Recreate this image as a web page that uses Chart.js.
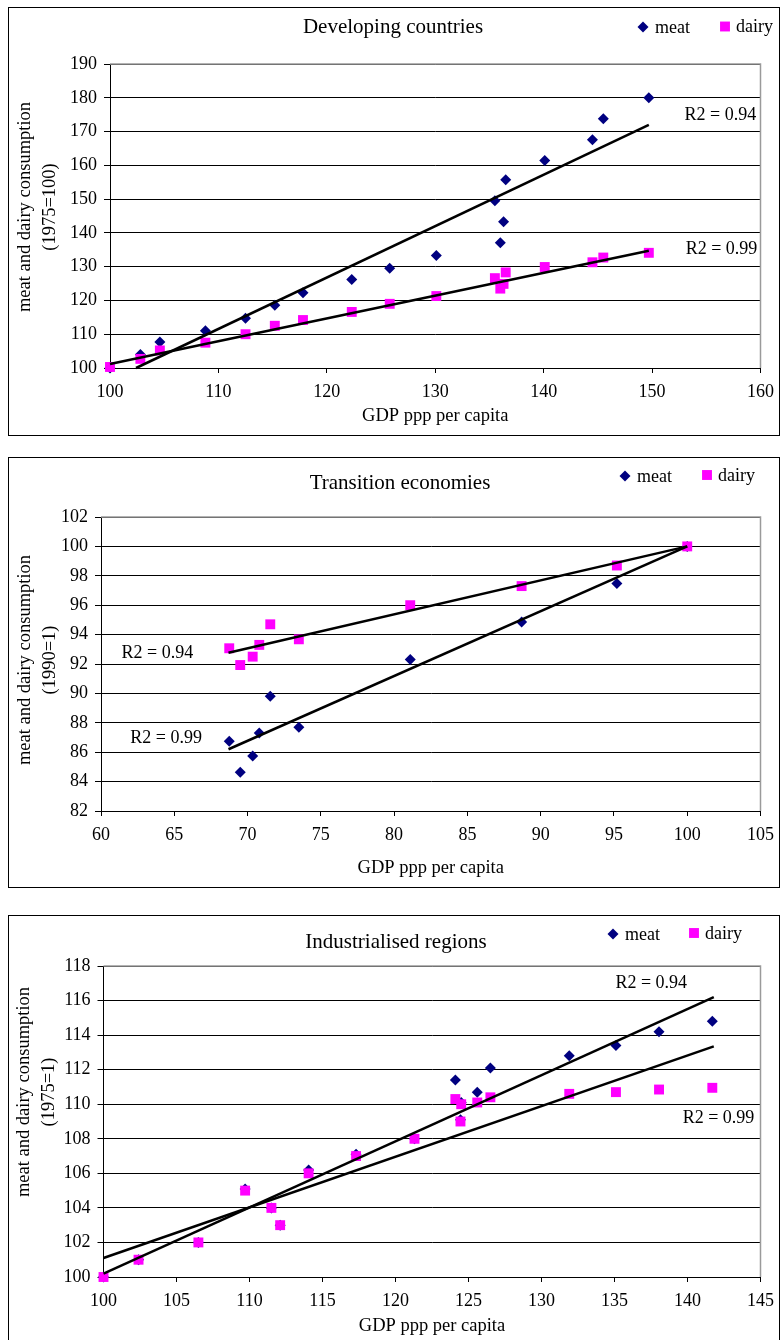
<!DOCTYPE html>
<html>
<head>
<meta charset="utf-8">
<script src="https://cdn.jsdelivr.net/npm/chart.js@4.4.1/dist/chart.umd.min.js"></script>
<style>
html, body { margin: 0; padding: 0; background: #fff; overflow: hidden; }
body { width: 782px; height: 1340px; position: relative; }
.panel { position: absolute; left: 8px; width: 772px; box-sizing: border-box; border: 1px solid #000; background: #fff; }
canvas { position: absolute; left: 0; }
</style>
</head>
<body>
<div class="panel" style="top:7px;height:429px"></div>
<canvas id="devChart" width="782" height="429" style="top:7px"></canvas>
<div class="panel" style="top:457px;height:431px"></div>
<canvas id="transChart" width="782" height="431" style="top:457px"></canvas>
<div class="panel" style="top:915px;height:440px"></div>
<canvas id="indChart" width="782" height="425" style="top:915px"></canvas>
<script>
// Developing countries (1975=100)
var devGdp   = [100, 102.8, 104.6, 108.8, 112.5, 115.2, 117.8, 122.3, 125.8, 130.1, 135.5, 136.0, 136.3, 136.5, 140.1, 144.5, 145.5, 149.7];
var devMeat  = [100, 104.0, 107.7, 111.0, 114.7, 118.6, 122.3, 126.2, 129.5, 133.3, 149.5, 137.1, 143.3, 155.7, 161.4, 167.6, 173.8, 180.0];
var devDairy = [100.3, 102.7, 105.2, 107.5, 110.0, 112.5, 114.2, 116.6, 119.0, 121.3, 126.6, 123.5, 124.9, 128.3, 129.9, 131.3, 132.7, 134.1];
var devMeatTrend  = [{x: 102.4, y: 100}, {x: 149.7, y: 172.0}];
var devDairyTrend = [{x: 100, y: 101.2}, {x: 149.7, y: 134.7}];

// Transition economies (1990=1)
var transGdp   = [68.75, 69.5, 70.35, 70.8, 71.55, 73.5, 81.1, 88.7, 95.2, 100];
var transMeat  = [86.75, 84.64, 85.75, 87.3, 89.8, 87.7, 92.3, 94.86, 97.48, 100];
var transDairy = [93.07, 91.93, 92.5, 93.3, 94.7, 93.68, 96.0, 97.3, 98.7, 100];
var transMeatTrend  = [{x: 68.7, y: 86.2}, {x: 100, y: 100}];
var transDairyTrend = [{x: 68.7, y: 92.77}, {x: 100, y: 100}];

// Industrialised regions (1975=1)
var indGdp   = [100, 102.4, 106.5, 109.7, 111.5, 112.1, 114.05, 117.3, 121.3, 124.1, 124.5, 124.45, 125.6, 126.5, 131.9, 135.1, 138.05, 141.7];
var indMeat  = [100, 101, 102, 105.1, 104, 103, 106.2, 107.1, 108, 111.4, 110.1, 109.1, 110.7, 112.1, 112.8, 113.4, 114.2, 114.8];
var indDairy = [100, 101, 102, 105, 104, 103, 106, 107, 108, 110.3, 110.0, 109.0, 110.1, 110.4, 110.6, 110.7, 110.85, 110.95];
var indMeatTrend  = [{x: 100, y: 100.2}, {x: 141.8, y: 116.2}];
var indDairyTrend = [{x: 100, y: 101.1}, {x: 141.8, y: 113.35}];

var FONT = '"Liberation Serif", "Times New Roman", serif';

function pts(xs, ys) {
  return xs.map(function (x, i) { return {x: x, y: ys[i]}; });
}

// title, legend, rotated y title, R2 notes and the grey frame of the plot area
var panelText = {
  id: 'panelText',
  beforeDatasetsDraw: function (chart) {
    var a = chart.chartArea, ctx = chart.ctx;
    ctx.save();
    ctx.strokeStyle = '#9a9a9a';
    ctx.lineWidth = 1.5;
    ctx.beginPath();
    ctx.moveTo(a.left, a.top);
    ctx.lineTo(a.right, a.top);
    ctx.lineTo(a.right, a.bottom);
    ctx.stroke();
    ctx.restore();
  },
  afterDraw: function (chart, args, opts) {
    var ctx = chart.ctx;
    ctx.save();
    ctx.fillStyle = '#000';
    ctx.textBaseline = 'middle';

    ctx.font = '21px ' + FONT;
    ctx.textAlign = 'center';
    ctx.fillText(opts.title, opts.titleX, opts.titleY);

    ctx.font = '18px ' + FONT;
    ctx.textAlign = 'left';
    opts.legend.forEach(function (item) {
      var ds = chart.data.datasets[item.dataset];
      ctx.fillStyle = ds.backgroundColor;
      Chart.helpers.drawPoint(ctx, {pointStyle: ds.pointStyle, radius: ds.pointRadius, rotation: 0, borderWidth: 0}, item.x, item.y);
      ctx.fillStyle = '#000';
      ctx.fillText(ds.label, item.x + item.gap, item.y + 1);
    });

    ctx.save();
    ctx.translate(opts.yTitleX, opts.yTitleY);
    ctx.rotate(-Math.PI / 2);
    ctx.font = '18.5px ' + FONT;
    ctx.textAlign = 'center';
    opts.yTitle.forEach(function (line, i) { ctx.fillText(line, 0, i * 25); });
    ctx.restore();

    var xs = chart.scales.x, ys = chart.scales.y;
    ctx.font = '18px ' + FONT;
    ctx.textAlign = 'left';
    opts.notes.forEach(function (n) {
      ctx.fillText(n.text, xs.getPixelForValue(n.x), ys.getPixelForValue(n.y));
    });
    ctx.restore();
  }
};

function makeChart(id, gdp, meat, dairy, meatTrend, dairyTrend, axes, layout, text) {
  var ctx = document.getElementById(id).getContext('2d');
  return new Chart(ctx, {
    type: 'scatter',
    data: {
      datasets: [{
        label: 'meat',
        data: pts(gdp, meat),
        backgroundColor: '#000080',
        borderColor: '#000080',
        borderWidth: 0,
        pointStyle: 'rectRot',
        pointRadius: 5.5,
        clip: false,
        order: 2
      }, {
        label: 'dairy',
        data: pts(gdp, dairy),
        backgroundColor: '#ff00ff',
        borderColor: '#ff00ff',
        borderWidth: 0,
        pointStyle: 'rect',
        pointRadius: 7,
        clip: false,
        order: 1
      }, {
        label: 'meat trend',
        data: meatTrend,
        showLine: true,
        borderColor: '#000',
        borderWidth: 2.5,
        pointRadius: 0,
        clip: false,
        order: 0
      }, {
        label: 'dairy trend',
        data: dairyTrend,
        showLine: true,
        borderColor: '#000',
        borderWidth: 2.5,
        pointRadius: 0,
        clip: false,
        order: 0
      }]
    },
    options: {
      responsive: false,
      animation: false,
      events: [],
      layout: {padding: layout.padding},
      plugins: {
        legend: {display: false},
        title: {display: false},
        tooltip: {enabled: false},
        panelText: text
      },
      scales: {
        x: {
          type: 'linear',
          min: axes.xMin,
          max: axes.xMax,
          ticks: {stepSize: axes.xStep, color: '#000', padding: 8, font: {family: FONT, size: 18}},
          grid: {drawOnChartArea: false, drawTicks: true, tickLength: 5, color: '#000'},
          border: {display: true, color: '#000', width: 1},
          title: {display: true, text: 'GDP ppp per capita', color: '#000',
                  font: {family: FONT, size: 18.5}, padding: {top: 0, bottom: layout.xTitleBottom}},
          afterFit: function (s) { s.height = layout.xHeight; }
        },
        y: {
          type: 'linear',
          min: axes.yMin,
          max: axes.yMax,
          ticks: {stepSize: axes.yStep, color: '#000', padding: 7, font: {family: FONT, size: 18}},
          grid: {color: '#000', lineWidth: 1, drawTicks: true, tickLength: 6},
          border: {display: true, color: '#000', width: 1},
          afterFit: function (s) { s.width = 40; }
        }
      }
    },
    plugins: [panelText]
  });
}

makeChart('devChart', devGdp, devMeat, devDairy, devMeatTrend, devDairyTrend,
  {xMin: 100, xMax: 160, xStep: 10, yMin: 100, yMax: 190, yStep: 10},
  {padding: {left: 70, right: 17, top: 57, bottom: 0}, xHeight: 68, xTitleBottom: 9},
  {title: 'Developing countries', titleX: 393, titleY: 20,
   legend: [{dataset: 0, x: 643, y: 20, gap: 12}, {dataset: 1, x: 725, y: 19.5, gap: 11}],
   yTitle: ['meat and dairy consumption', '(1975=100)'], yTitleX: 25, yTitleY: 200,
   notes: [{text: 'R2 = 0.94', x: 153.0, y: 174.9}, {text: 'R2 = 0.99', x: 153.1, y: 135.2}]});

makeChart('transChart', transGdp, transMeat, transDairy, transMeatTrend, transDairyTrend,
  {xMin: 60, xMax: 105, xStep: 5, yMin: 82, yMax: 102, yStep: 2},
  {padding: {left: 61, right: 13.5, top: 60, bottom: 0}, xHeight: 77, xTitleBottom: 9},
  {title: 'Transition economies', titleX: 400, titleY: 26,
   legend: [{dataset: 0, x: 625, y: 19, gap: 12}, {dataset: 1, x: 707, y: 18, gap: 11}],
   yTitle: ['meat and dairy consumption', '(1990=1)'], yTitleX: 25, yTitleY: 203,
   notes: [{text: 'R2 = 0.94', x: 61.4, y: 92.75}, {text: 'R2 = 0.99', x: 62.0, y: 86.95}]});

makeChart('indChart', indGdp, indMeat, indDairy, indMeatTrend, indDairyTrend,
  {xMin: 100, xMax: 145, xStep: 5, yMin: 100, yMax: 118, yStep: 2},
  {padding: {left: 63.5, right: 14.5, top: 51, bottom: 0}, xHeight: 63, xTitleBottom: 3},
  {title: 'Industrialised regions', titleX: 396, titleY: 27,
   legend: [{dataset: 0, x: 613, y: 19, gap: 12}, {dataset: 1, x: 694, y: 18, gap: 11}],
   yTitle: ['meat and dairy consumption', '(1975=1)'], yTitleX: 24, yTitleY: 177,
   notes: [{text: 'R2 = 0.94', x: 135.06, y: 117.0}, {text: 'R2 = 0.99', x: 139.67, y: 109.2}]});
</script>
</body>
</html>
